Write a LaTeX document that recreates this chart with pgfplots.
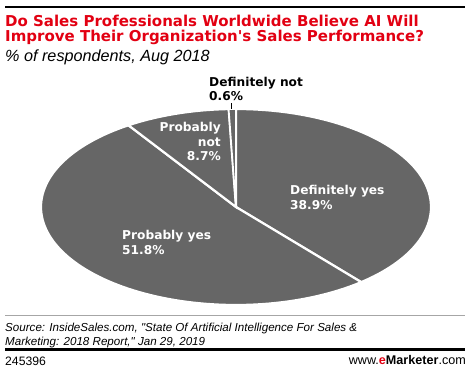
\documentclass[border=0pt]{standalone}
\usepackage{pgfplots}
\pgfplotsset{compat=1.18}
\usepackage{fontspec}
\setmainfont{DejaVu Sans}
\newfontfamily\bfont{DejaVu Sans Bold}
\newfontfamily\ifont{Liberation Sans}
\definecolor{pie}{RGB}{102,102,102}
\definecolor{emred}{RGB}{226,0,18}
% shares, % of respondents (clockwise from 12 o'clock)
\def\vDY{38.9}
\def\vPY{51.8}
\def\vPN{8.7}
\def\vDN{0.6}
\tikzset{lab/.style={inner sep=0, font=\bfont\fontsize{12.2}{14}\selectfont}}
\begin{document}
\begin{tikzpicture}
\begin{axis}[
  width=470pt, height=371pt, scale only axis,
  xmin=0, xmax=470, ymin=0, ymax=371, y dir=reverse,
  hide axis, clip=false,
]
\coordinate (bl) at (axis cs:0,371);
\coordinate (tr) at (axis cs:470,0);
\pgfmathsetmacro\aA{90}
\pgfmathsetmacro\aB{\aA-3.6*\vDY}
\pgfmathsetmacro\aC{\aB-3.6*\vPY}
\pgfmathsetmacro\aD{\aC-3.6*\vPN}
\pgfmathsetmacro\aE{\aD-3.6*\vDN}
\addplot[fill=pie, draw=white, line width=2.2pt, domain=\aB:\aA, samples=80, variable=\t]
  ({236+195*cos(\t)},{207-98*sin(\t)}) -- (axis cs:236,207) -- cycle;
\addplot[fill=pie, draw=white, line width=2.2pt, domain=\aC:\aB, samples=100, variable=\t]
  ({236+195*cos(\t)},{207-98*sin(\t)}) -- (axis cs:236,207) -- cycle;
\addplot[fill=pie, draw=white, line width=2.2pt, domain=\aD:\aC, samples=30, variable=\t]
  ({236+195*cos(\t)},{207-98*sin(\t)}) -- (axis cs:236,207) -- cycle;
\addplot[fill=pie, draw=white, line width=1.6pt, domain=\aE:\aD, samples=5, variable=\t]
  ({236+195*cos(\t)},{207-98*sin(\t)}) -- (axis cs:236,207) -- cycle;
% labels
\node[lab, anchor=base west, text=white] at (axis cs:290,194) {Definitely yes};
\node[lab, anchor=base west, text=white] at (axis cs:290,209) {38.9\%};
\node[lab, anchor=base west, text=white] at (axis cs:122,239) {Probably yes};
\node[lab, anchor=base west, text=white] at (axis cs:122,254) {51.8\%};
\node[lab, anchor=base east, text=white] at (axis cs:221,132) {Probably};
\node[lab, anchor=base east, text=white] at (axis cs:221,146.5) {not};
\node[lab, anchor=base east, text=white] at (axis cs:221,161) {8.7\%};
\node[lab, anchor=base west, text=black] at (axis cs:209,86.5) {Definitely not};
\node[lab, anchor=base west, text=black] at (axis cs:209,101) {0.6\%};
\draw[black, line width=0.8pt] (axis cs:231,103.5) -- (axis cs:231,109);
% header
\draw[black, line width=2.5pt] (axis cs:5,7) -- (axis cs:465,7);
\node[anchor=base west, text=emred, font=\bfont\fontsize{15}{17}\selectfont, inner sep=0] at (axis cs:5,27) {Do Sales Professionals Worldwide Believe AI Will};
\node[anchor=base west, text=emred, font=\bfont\fontsize{15}{17}\selectfont, inner sep=0] at (axis cs:5,42) {Improve Their Organization's Sales Performance?};
\node[anchor=base west, text=black, font=\ifont\itshape\fontsize{16.2}{18}\selectfont, inner sep=0] at (axis cs:5,61.5) {\% of respondents, Aug 2018};
% footer
\draw[gray!70, line width=0.8pt] (axis cs:5,315) -- (axis cs:465,315);
\node[anchor=base west, text=black, font=\ifont\itshape\fontsize{11.6}{14}\selectfont, inner sep=0] at (axis cs:5,331) {Source: InsideSales.com, "State Of Artificial Intelligence For Sales \&};
\node[anchor=base west, text=black, font=\ifont\itshape\fontsize{11.6}{14}\selectfont, inner sep=0] at (axis cs:5,345) {Marketing: 2018 Report," Jan 29, 2019};
\draw[black, line width=2.5pt] (axis cs:5,349.5) -- (axis cs:465,349.5);
\node[anchor=base west, text=black, font=\ifont\fontsize{12.2}{14}\selectfont, inner sep=0] at (axis cs:5,365) {245396};
\node[anchor=base east, text=black, font=\ifont\fontsize{12.6}{14}\selectfont, inner sep=0] at (axis cs:466,364.5) {www.{\color{emred}\bfseries e}{\bfseries Marketer}.com};
\end{axis}
\pgfresetboundingbox
\path[use as bounding box] (bl) rectangle (tr);
\end{tikzpicture}
\end{document}
